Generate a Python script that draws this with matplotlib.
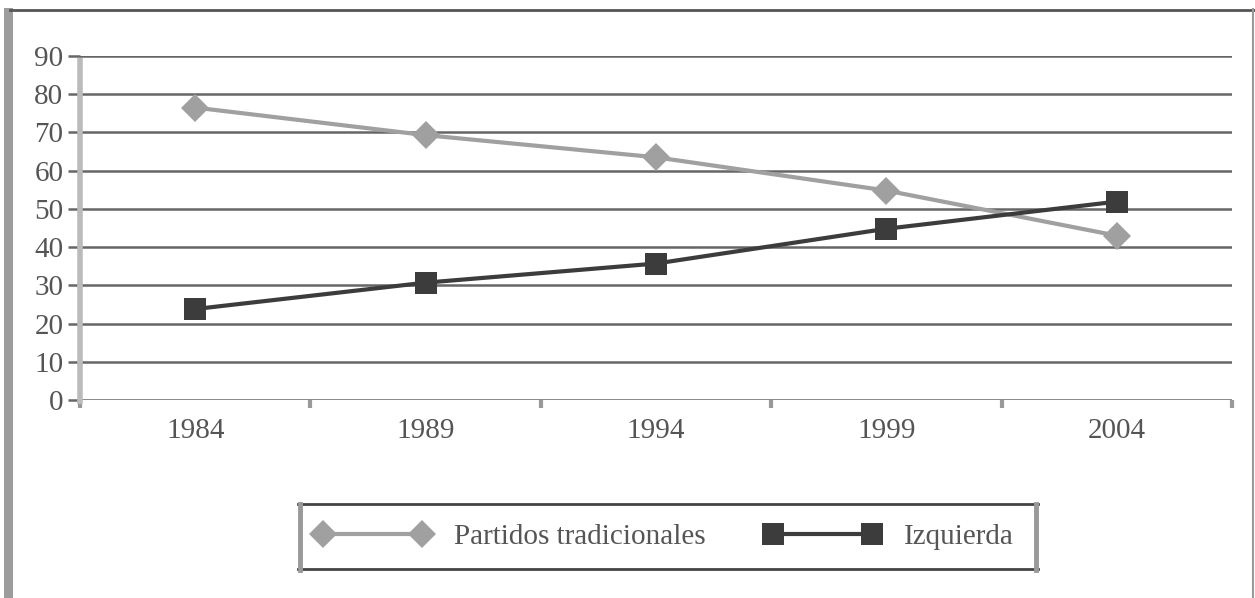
import matplotlib
matplotlib.use("Agg")
import matplotlib.pyplot as plt
from matplotlib.lines import Line2D
from matplotlib.patches import Rectangle

years = ["1984", "1989", "1994", "1999", "2004"]
tradicionales = [76.5, 69.3, 63.5, 54.8, 43.0]
izquierda = [23.8, 30.7, 35.7, 44.8, 51.9]
series_names = ["Partidos tradicionales", "Izquierda"]
yticks = [0, 10, 20, 30, 40, 50, 60, 70, 80, 90]

W, H = 1255, 598
fig = plt.figure(figsize=(W / 100, H / 100), dpi=100)
fig.patch.set_facecolor("white")
FONT = "Liberation Serif"
FS = 21

ax = fig.add_axes([80 / W, 198 / H, 1152 / W, 344 / H])
x = list(range(len(years)))

ax.set_xlim(-0.5, len(years) - 0.5)
ax.set_ylim(0, 90)

# gridlines
ax.set_yticks(yticks)
ax.yaxis.grid(True, color="#666666", linewidth=1.8)
ax.set_axisbelow(True)
ax.tick_params(axis="y", length=9, width=1.8, color="#666666", pad=3,
               labelsize=FS, labelcolor="#555555")

ax.set_xticks([i - 0.5 for i in range(len(years) + 1)])
ax.set_xticklabels([])
ax.set_xticks(x, minor=True)
ax.set_xticklabels(years, minor=True)
ax.tick_params(axis="x", which="major", length=6, width=3, color="#999999", direction="out")
ax.tick_params(axis="x", which="minor", length=0, pad=13, labelsize=FS, labelcolor="#555555")

for s in ["top", "right", "bottom"]:
    ax.spines[s].set_visible(False)
ax.spines["left"].set_color("#bbbbbb")
ax.spines["left"].set_linewidth(4)
ax.spines["left"].set_bounds(-1, 89.5)
ax.spines["left"].set_capstyle("butt")

for lab in ax.get_xticklabels(minor=True) + ax.get_yticklabels():
    lab.set_fontfamily(FONT)

ax.plot(x, tradicionales, color="#a0a0a0", linewidth=3, marker="D",
        markersize=14, markeredgewidth=0, label=series_names[0], zorder=3)
ax.plot(x, izquierda, color="#3c3c3c", linewidth=3, marker="s",
        markersize=16, markeredgewidth=0, label=series_names[1], zorder=4)

# legend
leg = fig.legend(loc="center", bbox_to_anchor=(664 / W, 1 - 537 / H), ncol=2,
                 frameon=False, numpoints=2, handlelength=4.0, columnspacing=2.0,
                 handletextpad=0.8, prop={"family": FONT, "size": FS})
for t in leg.get_texts():
    t.set_color("#555555")

# legend box
fig.add_artist(Line2D([298 / W, 1038 / W], [1 - 504 / H] * 2, transform=fig.transFigure,
                      color="#444444", linewidth=2))
fig.add_artist(Line2D([298 / W, 1038 / W], [1 - 569 / H] * 2, transform=fig.transFigure,
                      color="#444444", linewidth=2))
fig.add_artist(Line2D([300 / W] * 2, [1 - 504 / H, 1 - 570 / H], transform=fig.transFigure,
                      color="#999999", linewidth=3.5))
fig.add_artist(Line2D([1036 / W] * 2, [1 - 504 / H, 1 - 570 / H], transform=fig.transFigure,
                      color="#999999", linewidth=3.5))

# figure border
fig.add_artist(Rectangle((4 / W, 0), 9 / W, 1 - 8 / H, transform=fig.transFigure,
                         facecolor="#9c9c9c", edgecolor="none"))
fig.add_artist(Line2D([10 / W, 1254 / W], [1 - 9.5 / H] * 2, transform=fig.transFigure,
                      color="#555555", linewidth=2))
fig.add_artist(Line2D([1253 / W] * 2, [0, 1 - 9 / H], transform=fig.transFigure,
                      color="#999999", linewidth=1.5))

fig.savefig("out.png", dpi=100)
